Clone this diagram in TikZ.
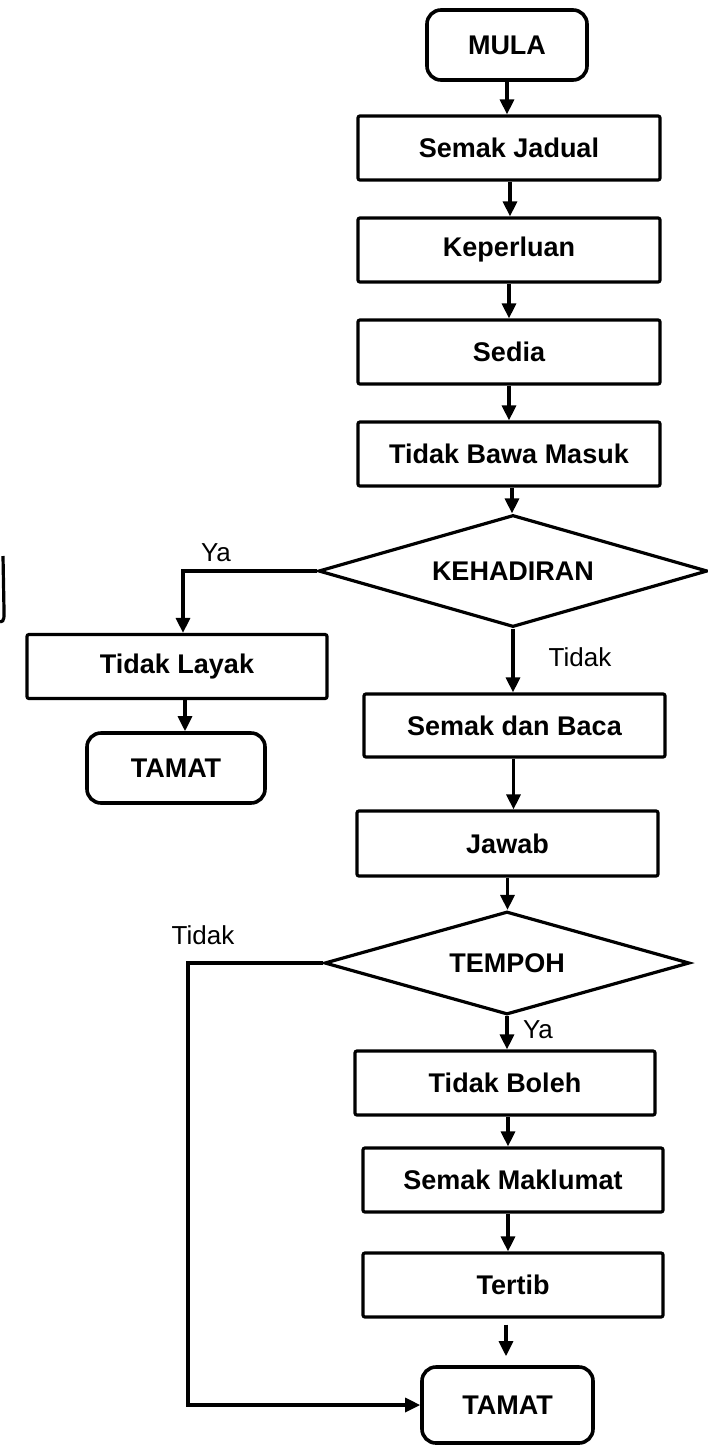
\documentclass[tikz,border=0pt]{standalone}
\usepackage{fontspec}
\setmainfont{Liberation Sans}
\usetikzlibrary{arrows.meta,shapes.geometric}
\tikzset{
  proc/.style={draw, rectangle, rounded corners=2pt, inner sep=0pt, line width=3.2pt,
    minimum width=300pt, minimum height=64pt, font=\bfseries\fontsize{27}{32}\selectfont},
  term/.style={draw, rectangle, rounded corners=14pt, inner sep=0pt, line width=3.6pt,
    font=\bfseries\fontsize{27}{32}\selectfont},
  decide/.style={draw, diamond, inner sep=0pt, line width=3.2pt,
    font=\bfseries\fontsize{27}{32}\selectfont},
  lbl/.style={font=\fontsize{26}{30}\selectfont, inner sep=0pt},
  arr/.style={-{Triangle[length=15pt,width=14pt]}, line width=3.2pt},
}
\begin{document}
\begin{tikzpicture}[x=1pt,y=-1pt]
\useasboundingbox (0,0) rectangle (708,1446);
% nodes
\node[term, minimum width=160pt, minimum height=70pt] (mula) at (507,45) {MULA};
\node[proc, minimum width=302pt] (jadual) at (509,148) {Semak Jadual};
\node[proc, minimum width=302pt] (keperluan) at (509,250) {Keperluan};
\node[proc, minimum width=302pt] (sedia) at (509,352) {Sedia};
\node[proc, minimum width=302pt] (bawa) at (509,454) {Tidak Bawa Masuk};
\node[decide, aspect=3.47, minimum width=389pt, minimum height=112pt] (hadir) at (513,571) {KEHADIRAN};
\node[proc] (layak) at (177,666.5) {Tidak Layak};
\node[term, minimum width=178pt, minimum height=70pt] (tamata) at (176,768) {TAMAT};
\node[proc, minimum width=301pt, minimum height=63pt] (baca) at (514.5,725.5) {Semak dan Baca};
\node[proc, minimum width=301pt, minimum height=65pt] (jawab) at (507.5,843.5) {Jawab};
\node[decide, aspect=3.54, minimum width=365pt, minimum height=103pt] (tempoh) at (507,963) {TEMPOH};
\node[proc] (boleh) at (505,1083) {Tidak Boleh};
\node[proc] (maklumat) at (513,1180) {Semak Maklumat};
\node[proc] (tertib) at (513,1285) {Tertib};
\node[term, minimum width=171pt, minimum height=76pt] (tamatb) at (507.5,1405) {TAMAT};
% labels
\node[lbl] (ya1) at (216,553) {Ya};
\node[lbl] (tidak1) at (580,657) {Tidak};
\node[lbl] (tidak2) at (203,935) {Tidak};
\node[lbl] (ya2) at (538,1030) {Ya};
% connectors
\draw[arr] (mula.south) -- (mula.south |- jadual.north);
\draw[arr] ([xshift=1pt]jadual.south) -- ([xshift=1pt]jadual.south |- keperluan.north);
\draw[arr] (keperluan.south) -- (keperluan.south |- sedia.north);
\draw[arr] (sedia.south) -- (sedia.south |- bawa.north);
\draw[arr] ([xshift=3pt]bawa.south) -- ([xshift=3pt]bawa.south |- hadir.north);
\coordinate (yaturn) at (183,571);
\draw[arr] (hadir.west) -- (yaturn) -- (yaturn |- layak.north);
\draw[arr] ([xshift=8pt]layak.south) -- ([xshift=9pt]tamata.north);
\draw[arr] (hadir.south) -- (hadir.south |- baca.north);
\draw[arr] ([xshift=-1pt]baca.south) -- ([xshift=-1pt]baca.south |- jawab.north);
\draw[arr] (jawab.south) -- (jawab.south |- tempoh.north);
\coordinate (tturn) at (188,963);
\draw[arr] (tempoh.west) -- (tturn) -- (tturn |- tamatb.west) -- (tamatb.west);
\draw[arr] (tempoh.south) -- (tempoh.south |- boleh.north);
\draw[arr] ([xshift=3pt]boleh.south) -- ([xshift=3pt]boleh.south |- maklumat.north);
\draw[arr] ([xshift=-5pt]maklumat.south) -- ([xshift=-5pt]maklumat.south |- tertib.north);
\draw[arr, shorten <=6pt, shorten >=9pt] ([xshift=-7pt]tertib.south) -- ([xshift=-7pt]tertib.south |- tamatb.north);
% stray edge at left border
\draw[line width=3.2pt] (3,556) -- (4,610) to[out=-90,in=0] (0,622);
\end{tikzpicture}
\end{document}
